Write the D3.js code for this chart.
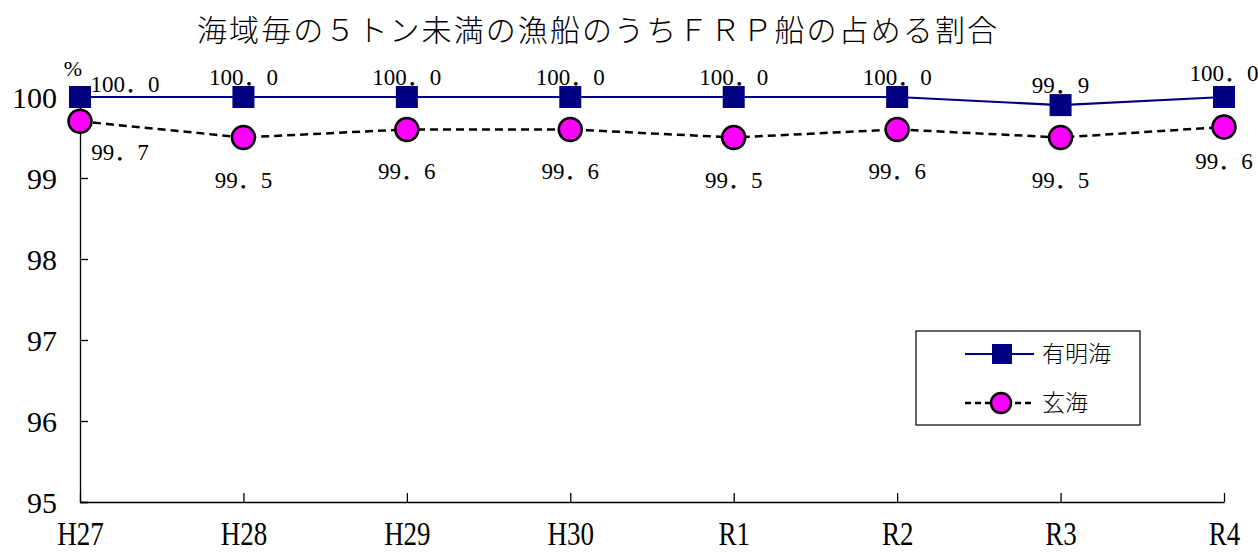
<!DOCTYPE html>
<html><head><meta charset="utf-8">
<script src="https://cdn.jsdelivr.net/npm/d3@7"></script>
<style>
body{margin:0;background:#fff;}
svg{display:block;}
text{font-family:"Liberation Serif","Noto Sans CJK JP",serif;fill:#000;font-weight:normal;}
</style></head>
<body><svg id="c" width="1258" height="553"></svg>
<script>
const title = "海域毎の５トン未満の漁船のうちＦＲＰ船の占める割合";
const categories = ["H27","H28","H29","H30","R1","R2","R3","R4"];
const ariakeValues = [100.0,100.0,100.0,100.0,100.0,100.0,99.9,100.0];
const genkaiValues = [99.7,99.5,99.6,99.6,99.5,99.6,99.5,99.63];
const ariakeLabels = ["100.0","100.0","100.0","100.0","100.0","100.0","99.9","100.0"];
const genkaiLabels = ["99.7","99.5","99.6","99.6","99.5","99.6","99.5","99.6"];
const yTicks = [95,96,97,98,99,100];
const seriesNames = ["有明海","玄海"];
const unitLabel = "%";

const svg = d3.select("#c");
const x = d3.scalePoint().domain(categories).range([80,1224]);
const y = d3.scaleLinear().domain([95,100]).range([502,97]);
const fw = s => s.replace(".", "．");

// title
svg.append("text").attr("x",597).attr("y",41).attr("text-anchor","middle")
  .attr("font-size",30).attr("textLength",800).attr("lengthAdjust","spacing")
  .style("font-family","'Noto Sans CJK JP'").style("font-weight",300).text(title);

// axes
const yAxis = d3.axisLeft(y).tickValues(yTicks).tickSize(-8).tickFormat(d3.format("d")).tickPadding(22);
const gy = svg.append("g").attr("transform","translate(80,0)").call(yAxis)
  .attr("font-family",null);
gy.select(".domain").attr("stroke","#000").attr("stroke-width",1.3);
gy.selectAll(".tick line").attr("stroke","#000").attr("stroke-width",1.3);
gy.selectAll(".tick text").attr("font-size",30).attr("dy","0.35em")
  .style("font-family","'Liberation Serif', serif").style("font-weight","normal").attr("x",-23);

const xAxis = d3.axisBottom(x).tickSize(-9).tickSizeOuter(0).tickPadding(0);
const gx = svg.append("g").attr("transform","translate(0,502)").call(xAxis)
  .attr("font-family",null);
gx.select(".domain").attr("stroke","#000").attr("stroke-width",1.3);
gx.selectAll(".tick line").attr("stroke","#000").attr("stroke-width",1.3);
gx.selectAll(".tick text").attr("font-size",27).attr("y",0).attr("dy",0)
  .style("font-family","'Liberation Serif', serif").style("font-weight","normal")
  .attr("transform","translate(0,43) scale(1,1.25)");

svg.append("text").attr("x",73).attr("y",76).attr("text-anchor","middle")
  .attr("font-size",22).text(unitLabel);

// lines
const line = d3.line().x((d,i)=>x(categories[i])).y(d=>y(d));
svg.append("path").datum(genkaiValues).attr("d",line).attr("fill","none")
  .attr("stroke","#000").attr("stroke-width",2.5).attr("stroke-dasharray","8,5");
svg.append("path").datum(ariakeValues).attr("d",line).attr("fill","none")
  .attr("stroke","#000080").attr("stroke-width",2.2);

// markers
svg.selectAll(".sq").data(ariakeValues).join("rect").attr("class","sq")
  .attr("x",(d,i)=>x(categories[i])-11).attr("y",d=>y(d)-11)
  .attr("width",22).attr("height",22).attr("fill","#000080");
svg.selectAll(".ci").data(genkaiValues).join("circle").attr("class","ci")
  .attr("cx",(d,i)=>x(categories[i])).attr("cy",d=>y(d)).attr("r",11.5)
  .attr("fill","#ff00ff").attr("stroke","#000").attr("stroke-width",2.5);

// data labels
svg.selectAll(".la").data(ariakeValues).join("text").attr("class","la")
  .attr("x",(d,i)=>x(categories[i]) + (i===0?45:0))
  .attr("y",(d,i)=>y(d) - (i===0?5:12) - (i===7?4:0))
  .attr("text-anchor","middle").attr("font-size",23)
  .text((d,i)=>fw(ariakeLabels[i]));
svg.selectAll(".lb").data(genkaiValues).join("text").attr("class","lb")
  .attr("x",(d,i)=>x(categories[i]) + (i===0?40:0))
  .attr("y",(d,i)=>y(d) + (i===0?39:50) - (i===7?8:0))
  .attr("text-anchor","middle").attr("font-size",23)
  .text((d,i)=>fw(genkaiLabels[i]));

// legend
const lg = svg.append("g");
lg.append("rect").attr("x",916).attr("y",331).attr("width",224).attr("height",94)
  .attr("fill","#fff").attr("stroke","#000").attr("stroke-width",1.2);
const rows = [354,403];
lg.append("line").attr("x1",965).attr("x2",1034).attr("y1",rows[0]).attr("y2",rows[0])
  .attr("stroke","#000080").attr("stroke-width",2.2);
lg.append("rect").attr("x",992).attr("y",rows[0]-10).attr("width",20).attr("height",20).attr("fill","#000080");
lg.append("line").attr("x1",965).attr("x2",1034).attr("y1",rows[1]).attr("y2",rows[1])
  .attr("stroke","#000").attr("stroke-width",2.5).attr("stroke-dasharray","6,4");
lg.append("circle").attr("cx",1001).attr("cy",rows[1]).attr("r",10)
  .attr("fill","#ff00ff").attr("stroke","#000").attr("stroke-width",2.5);
lg.selectAll(".lt").data(seriesNames).join("text").attr("class","lt")
  .attr("x",1042).attr("y",(d,i)=>rows[i]+8).attr("font-size",23)
  .style("font-family","'Noto Sans CJK JP'").style("font-weight",300).text(d=>d);
</script></body></html>
